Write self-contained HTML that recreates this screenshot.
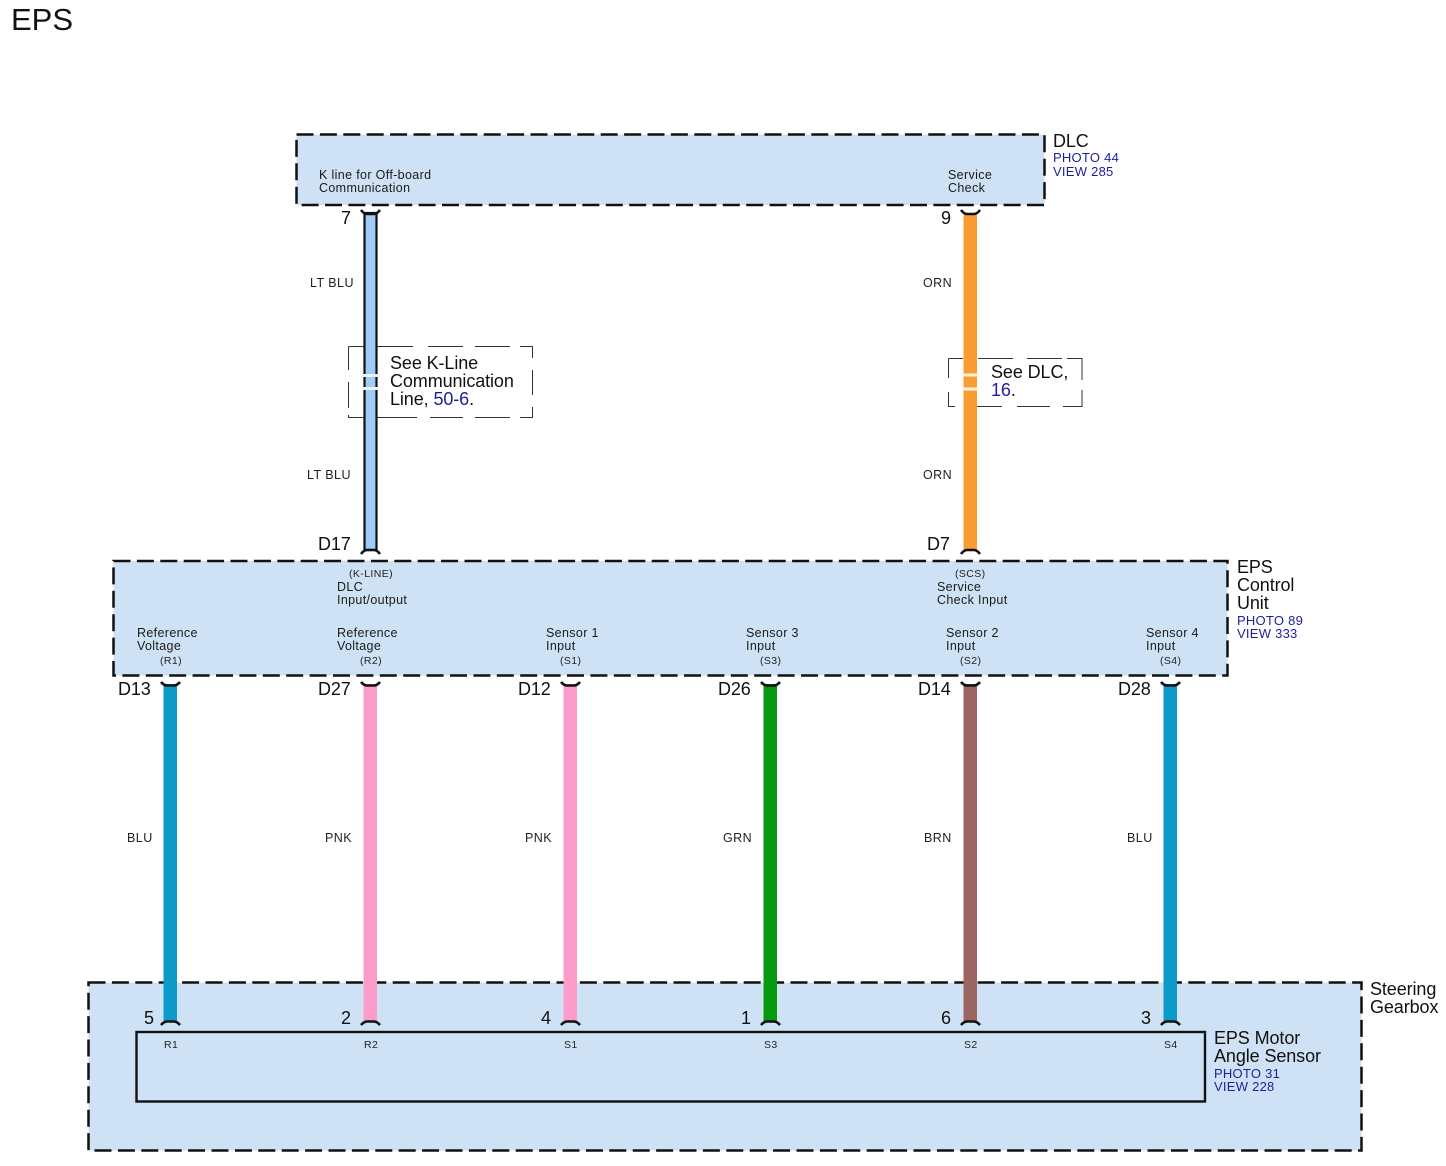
<!DOCTYPE html>
<html>
<head>
<meta charset="utf-8">
<style>
html,body{margin:0;padding:0;background:#fff;width:1446px;height:1166px;overflow:hidden}
svg{display:block}
text{font-family:"Liberation Sans",sans-serif;fill:#111}
.s{font-size:12.5px;letter-spacing:.35px;fill:#1a1a1a}
.t{font-size:10.5px;letter-spacing:.4px;fill:#222}
.l{font-size:18px;letter-spacing:-.1px}
.b{font-size:13px;letter-spacing:.25px;fill:#1e1e9e}
.w{font-size:12.5px;letter-spacing:.45px;fill:#222}
.bx{fill:#cfe2f5;stroke:#111;stroke-width:2.5;stroke-dasharray:17 6.4}
.ref{fill:none;stroke:#333;stroke-width:1}
.cap{fill:none;stroke:#111;stroke-width:2.6}
</style>
</head>
<body>
<svg width="1446" height="1166" viewBox="0 0 1446 1166" xmlns="http://www.w3.org/2000/svg">
<rect width="1446" height="1166" fill="#fff"/>
<text x="11" y="30" style="font-size:31px">EPS</text>

<rect class="bx" x="296.5" y="134.5" width="748" height="70.5"/>
<rect class="bx" x="113.5" y="561" width="1114" height="114.5"/>
<rect class="bx" x="88.5" y="982.5" width="1273" height="168"/>
<rect x="136.5" y="1032" width="1068.5" height="69.5" fill="#cfe2f5" stroke="#111" stroke-width="2.4"/>

<!-- reference boxes -->
<path class="ref" d="M348.500 346.500H365M377 346.500H413M428 346.500H463M475 346.500H510M520 346.500H532.500V358M532.500 370V395M532.500 407V417.500H520M510 417.500H475M463 417.500H430M417 417.500H377M365 417.500H348.500V415M348.500 408V382M348.500 370V346.500"/>
<path class="ref" d="M948.500 358.500H963M978 358.500H1013M1027 358.500H1062M1067 358.500H1082V380M1082 390V406.500H1063M1050 406.500H1017M1002 406.500H977M955 406.500H948.500V392M948.500 378V358.500"/>

<!-- upper wires -->
<rect x="364.500" y="213" width="12" height="337" fill="#9fcbf7" stroke="#111" stroke-width="2.2"/>
<rect x="963.500" y="213" width="13.500" height="337" fill="#fb9c33"/>
<rect x="362" y="374" width="17" height="3" fill="#eef4fb"/>
<rect x="362" y="387" width="17" height="3" fill="#eef4fb"/>
<rect x="962" y="373.500" width="16" height="3" fill="#fff3e0"/>
<rect x="962" y="387.500" width="16" height="3" fill="#fff3e0"/>

<!-- lower wires -->
<rect x="163.500" y="684" width="13.500" height="338" fill="#0e9ac9"/>
<rect x="363.500" y="684" width="13.500" height="338" fill="#fb9ccb"/>
<rect x="563.500" y="684" width="13.500" height="338" fill="#fb9ccb"/>
<rect x="763.500" y="684" width="13.500" height="338" fill="#079a10"/>
<rect x="963.500" y="684" width="13.500" height="338" fill="#9b6662"/>
<rect x="1163.500" y="684" width="13.500" height="338" fill="#0e9ac9"/>

<!-- connector caps: upper wire top -->
<path class="cap" d="M361 210Q364 214 367 214H374Q377 214 380 210"/>
<path class="cap" d="M961 210Q964 214 967 214H974Q977 214 980 210"/>
<!-- upper wire bottom -->
<path class="cap" d="M361 554Q364 550 367 550H374Q377 550 380 554"/>
<path class="cap" d="M961 554Q964 550 967 550H974Q977 550 980 554"/>
<!-- lower wire top -->
<path class="cap" d="M161 682Q164 685.500 167 685.500H174Q177 685.500 180 682"/>
<path class="cap" d="M361 682Q364 685.500 367 685.500H374Q377 685.500 380 682"/>
<path class="cap" d="M561 682Q564 685.500 567 685.500H574Q577 685.500 580 682"/>
<path class="cap" d="M761 682Q764 685.500 767 685.500H774Q777 685.500 780 682"/>
<path class="cap" d="M961 682Q964 685.500 967 685.500H974Q977 685.500 980 682"/>
<path class="cap" d="M1161 682Q1164 685.500 1167 685.500H1174Q1177 685.500 1180 682"/>
<!-- lower wire bottom -->
<path class="cap" d="M161 1025Q164 1021.500 167 1021.500H174Q177 1021.500 180 1025"/>
<path class="cap" d="M361 1025Q364 1021.500 367 1021.500H374Q377 1021.500 380 1025"/>
<path class="cap" d="M561 1025Q564 1021.500 567 1021.500H574Q577 1021.500 580 1025"/>
<path class="cap" d="M761 1025Q764 1021.500 767 1021.500H774Q777 1021.500 780 1025"/>
<path class="cap" d="M961 1025Q964 1021.500 967 1021.500H974Q977 1021.500 980 1025"/>
<path class="cap" d="M1161 1025Q1164 1021.500 1167 1021.500H1174Q1177 1021.500 1180 1025"/>

<!-- DLC -->
<text class="s" x="319" y="179">K line for Off-board</text>
<text class="s" x="319" y="192">Communication</text>
<text class="s" x="948" y="179">Service</text>
<text class="s" x="948" y="192">Check</text>
<text class="l" x="1053" y="147">DLC</text>
<text class="b" x="1053" y="162">PHOTO 44</text>
<text class="b" x="1053" y="176">VIEW 285</text>

<text class="l" x="341" y="224">7</text>
<text class="l" x="941" y="224">9</text>
<text class="w" x="310" y="287">LT BLU</text>
<text class="w" x="923" y="287">ORN</text>
<text class="w" x="307" y="479">LT BLU</text>
<text class="w" x="923" y="479">ORN</text>

<!-- references -->
<text class="l" x="390" y="369">See K-Line</text>
<text class="l" x="390" y="387">Communication</text>
<text class="l" x="390" y="405">Line, <tspan fill="#1e1e9e">50-6</tspan>.</text>
<text class="l" x="991" y="378">See DLC,</text>
<text class="l" x="991" y="396"><tspan fill="#1e1e9e">16</tspan>.</text>

<text class="l" x="318" y="550">D17</text>
<text class="l" x="927" y="550">D7</text>

<!-- ECU -->
<text class="t" x="349" y="577">(K-LINE)</text>
<text class="s" x="337" y="591">DLC</text>
<text class="s" x="337" y="604">Input/output</text>
<text class="t" x="955" y="577">(SCS)</text>
<text class="s" x="937" y="591">Service</text>
<text class="s" x="937" y="604">Check Input</text>

<text class="s" x="137" y="637">Reference</text>
<text class="s" x="137" y="650">Voltage</text>
<text class="t" x="160" y="664">(R1)</text>
<text class="s" x="337" y="637">Reference</text>
<text class="s" x="337" y="650">Voltage</text>
<text class="t" x="360" y="664">(R2)</text>
<text class="s" x="546" y="637">Sensor 1</text>
<text class="s" x="546" y="650">Input</text>
<text class="t" x="560" y="664">(S1)</text>
<text class="s" x="746" y="637">Sensor 3</text>
<text class="s" x="746" y="650">Input</text>
<text class="t" x="760" y="664">(S3)</text>
<text class="s" x="946" y="637">Sensor 2</text>
<text class="s" x="946" y="650">Input</text>
<text class="t" x="960" y="664">(S2)</text>
<text class="s" x="1146" y="637">Sensor 4</text>
<text class="s" x="1146" y="650">Input</text>
<text class="t" x="1160" y="664">(S4)</text>

<text class="l" x="1237" y="573">EPS</text>
<text class="l" x="1237" y="591">Control</text>
<text class="l" x="1237" y="609">Unit</text>
<text class="b" x="1237" y="625">PHOTO 89</text>
<text class="b" x="1237" y="638">VIEW 333</text>

<text class="l" x="118" y="695">D13</text>
<text class="l" x="318" y="695">D27</text>
<text class="l" x="518" y="695">D12</text>
<text class="l" x="718" y="695">D26</text>
<text class="l" x="918" y="695">D14</text>
<text class="l" x="1118" y="695">D28</text>

<text class="w" x="127" y="842">BLU</text>
<text class="w" x="325" y="842">PNK</text>
<text class="w" x="525" y="842">PNK</text>
<text class="w" x="723" y="842">GRN</text>
<text class="w" x="924" y="842">BRN</text>
<text class="w" x="1127" y="842">BLU</text>

<!-- Steering -->
<text class="l" x="144" y="1024">5</text>
<text class="l" x="341" y="1024">2</text>
<text class="l" x="541" y="1024">4</text>
<text class="l" x="741" y="1024">1</text>
<text class="l" x="941" y="1024">6</text>
<text class="l" x="1141" y="1024">3</text>

<text class="t" x="164" y="1048">R1</text>
<text class="t" x="364" y="1048">R2</text>
<text class="t" x="564" y="1048">S1</text>
<text class="t" x="764" y="1048">S3</text>
<text class="t" x="964" y="1048">S2</text>
<text class="t" x="1164" y="1048">S4</text>

<text class="l" x="1214" y="1044">EPS Motor</text>
<text class="l" x="1214" y="1062">Angle Sensor</text>
<text class="b" x="1214" y="1078">PHOTO 31</text>
<text class="b" x="1214" y="1091">VIEW 228</text>
<text class="l" x="1370" y="995">Steering</text>
<text class="l" x="1370" y="1013">Gearbox</text>
</svg>
</body>
</html>
